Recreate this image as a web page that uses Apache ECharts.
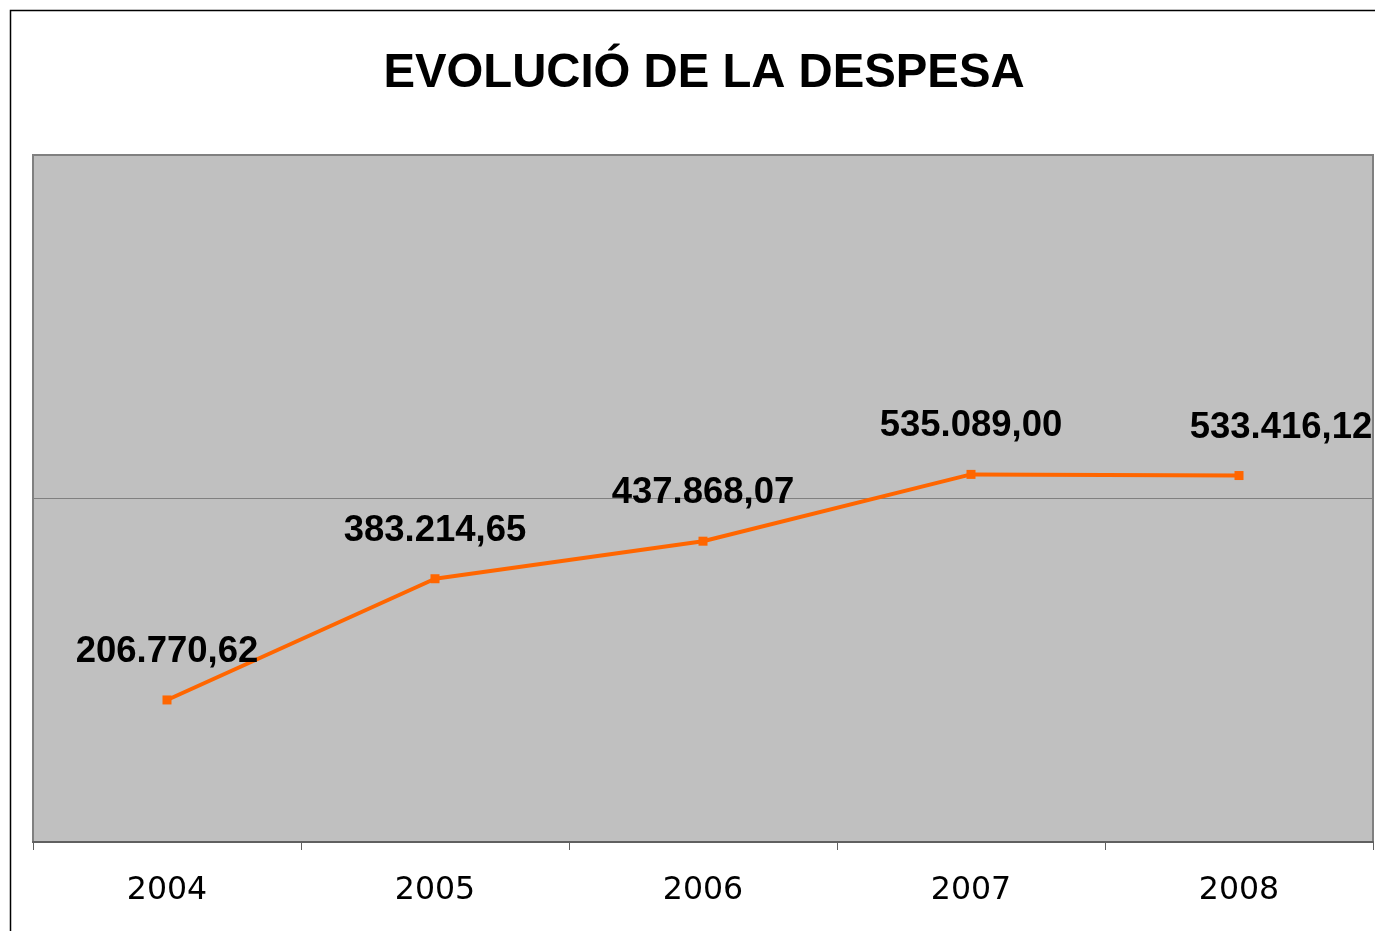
<!DOCTYPE html>
<html>
<head>
<meta charset="utf-8">
<script src="https://cdn.jsdelivr.net/npm/echarts@6/dist/echarts.min.js"></script>
<style>
  html, body { margin: 0; padding: 0; background: #fff; }
  #chart { width: 1375px; height: 931px; }
</style>
</head>
<body>
<div id="chart"></div>
<script>
// dades
const years = ['2004', '2005', '2006', '2007', '2008'];
const despesa = [206770.62, 383214.65, 437868.07, 535089.00, 533416.12];
const yTicks = [0, 500000, 1000000];

// format català: 206.770,62
function fmt(v) {
  const parts = v.toFixed(2).split('.');
  const ent = parts[0].replace(/\B(?=(\d{3})+(?!\d))/g, '.');
  return ent + ',' + parts[1];
}

const chart = echarts.init(document.getElementById('chart'), null, { renderer: 'canvas' });

// l'última etiqueta es desplaça cap a dins, com a l'original
const seriesData = despesa.map(function (v, i) {
  const item = { value: v };
  if (i === despesa.length - 1) item.label = { offset: [42, 0] };
  return item;
});

chart.setOption({
  animation: false,
  backgroundColor: '#ffffff',
  title: {
    text: 'EVOLUCIÓ DE LA DESPESA',
    left: 699,
    top: 45,
    textAlign: 'center',
    textStyle: {
      fontFamily: 'Liberation Sans',
      fontWeight: 'bold',
      fontSize: 47.3,
      color: '#000'
    }
  },
  graphic: [{
    type: 'rect',
    shape: { x: 10.5, y: 10.5, width: 1400, height: 1000 },
    style: { fill: 'none', stroke: '#000', lineWidth: 1.5 },
    silent: true
  }],
  grid: {
    left: 33,
    right: 2,
    top: 155,
    bottom: 89,
    show: true,
    backgroundColor: '#c0c0c0',
    borderColor: '#808080',
    borderWidth: 2
  },
  xAxis: {
    type: 'category',
    data: years,
    boundaryGap: true,
    axisLine: { show: true, lineStyle: { color: '#606060', width: 2 } },
    axisTick: { show: true, length: 8, lineStyle: { color: '#606060', width: 1 } },
    axisLabel: {
      fontFamily: 'DejaVu Sans',
      fontSize: 31.6,
      color: '#000',
      margin: 33
    }
  },
  yAxis: {
    type: 'value',
    min: yTicks[0],
    max: yTicks[yTicks.length - 1],
    interval: yTicks[1] - yTicks[0],
    axisLine: { show: false },
    axisTick: { show: false },
    axisLabel: { show: false },
    splitLine: { show: true, lineStyle: { color: '#808080', width: 1 } }
  },
  series: [{
    type: 'line',
    data: seriesData,
    symbol: 'rect',
    symbolSize: 9,
    lineStyle: { color: '#ff6600', width: 4 },
    itemStyle: { color: '#ff6600' },
    label: {
      show: true,
      position: 'top',
      distance: 25,
      fontFamily: 'Liberation Sans',
      fontWeight: 'bold',
      fontSize: 36.5,
      color: '#000',
      formatter: function (p) { return fmt(p.value); }
    }
  }]
});
</script>
</body>
</html>
